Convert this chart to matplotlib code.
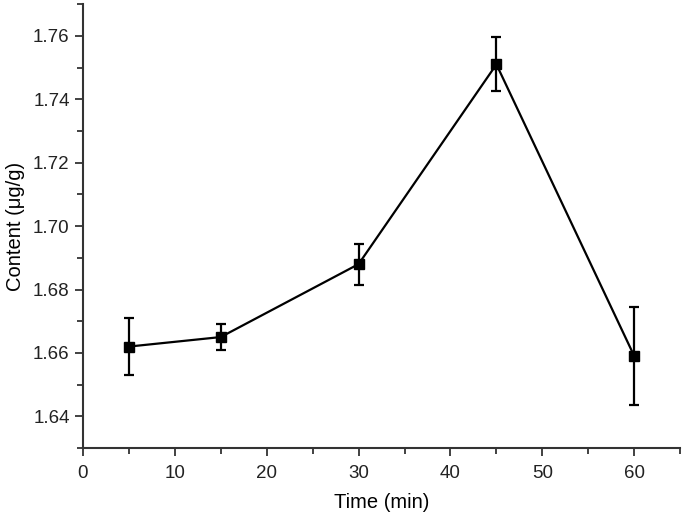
import matplotlib
matplotlib.use("Agg")
import matplotlib.pyplot as plt
from matplotlib.ticker import MultipleLocator, FormatStrFormatter

time_min = [5, 15, 30, 45, 60]
content = [1.662, 1.665, 1.688, 1.751, 1.659]
err = [0.009, 0.004, 0.0065, 0.0085, 0.0155]

plt.rcParams['font.family'] = ['Liberation Sans', 'DejaVu Sans']

fig = plt.figure(figsize=(6.85, 5.15), dpi=100)
ax = fig.add_axes([0.121, 0.130, 0.872, 0.862])
ax.errorbar(time_min, content, yerr=err, color='black', lw=1.6,
            marker='s', ms=6.5, capsize=3.5, capthick=1.6, elinewidth=1.6)

ax.set_xlim(0, 65)
ax.set_ylim(1.63, 1.77)
ax.xaxis.set_major_locator(MultipleLocator(10))
ax.xaxis.set_minor_locator(MultipleLocator(5))
ax.yaxis.set_major_locator(MultipleLocator(0.02))
ax.yaxis.set_minor_locator(MultipleLocator(0.01))
ax.yaxis.set_major_formatter(FormatStrFormatter('%.2f'))

for s in ['top', 'right']:
    ax.spines[s].set_visible(False)
for s in ['left', 'bottom']:
    ax.spines[s].set_color('#333333')
    ax.spines[s].set_linewidth(1.5)
ax.tick_params(which='both', direction='out', color='#333333', width=1.3,
               labelsize=13.5, colors='#222222')
ax.tick_params(which='major', length=6)
ax.tick_params(which='minor', length=4)
ax.tick_params(axis='x', pad=6)

ax.set_xlabel('Time (min)', fontsize=14.5, labelpad=8)
ax.set_ylabel('Content (μg/g)', fontsize=14.5, labelpad=6)

fig.savefig('out.png', dpi=100)
